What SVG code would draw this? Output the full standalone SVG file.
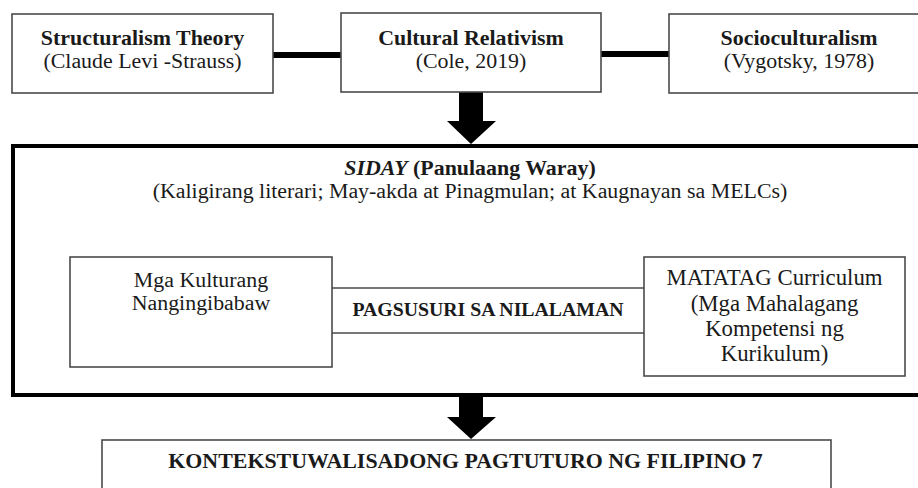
<svg xmlns="http://www.w3.org/2000/svg" width="918" height="488" viewBox="0 0 918 488">
<style>
text{font-family:"Liberation Serif","Times New Roman",serif;fill:#1a1a1a;text-anchor:middle;font-size:21.9px}
.b{font-weight:bold}
.mid{font-size:19.8px}
.cur{font-size:22.8px}
.box{fill:#fff;stroke:#4a4a4a;stroke-width:1.6}
.thick{stroke:#000;stroke-width:6;fill:none}
.thin{stroke:#4a4a4a;stroke-width:1.6;fill:none}
.arrow{fill:#000}
</style>
<rect width="918" height="488" fill="#fff"/>
<g id="connectors">
<line class="thick" x1="273" y1="55" x2="341" y2="55"/>
<line class="thick" x1="601" y1="54" x2="669" y2="54"/>
<polygon class="arrow" points="459,92 483,92 483,121 496,121 471,144 447,121 459,121"/>
<line class="thin" x1="332" y1="288" x2="644" y2="288"/>
<line class="thin" x1="332" y1="333" x2="644" y2="333"/>
<polygon class="arrow" points="459,395 483,395 483,417 496,417 471,439 447,417 459,417"/>
</g>
<g id="structuralism">
<rect class="box" x="12" y="14" width="261" height="79"/>
<text class="b" x="142.5" y="45">Structuralism Theory</text>
<text x="142.5" y="68">(Claude Levi -Strauss)</text>
</g>
<g id="cultural-relativism">
<rect class="box" x="341" y="13" width="260" height="79"/>
<text class="b" x="471" y="45">Cultural Relativism</text>
<text x="471" y="68">(Cole, 2019)</text>
</g>
<g id="socioculturalism">
<rect class="box" x="669" y="14" width="262" height="79"/>
<text class="b" x="799" y="45">Socioculturalism</text>
<text x="799" y="68">(Vygotsky, 1978)</text>
</g>
<g id="siday">
<rect x="13" y="146" width="915" height="249" fill="none" stroke="#000" stroke-width="4"/>
<text class="b" x="470" y="175"><tspan font-style="italic">SIDAY</tspan> (Panulaang Waray)</text>
<text x="470" y="198">(Kaligirang literari; May-akda at Pinagmulan; at Kaugnayan sa MELCs)</text>
</g>
<g id="kultura">
<rect class="box" x="70" y="257" width="262" height="110"/>
<text x="201" y="287">Mga Kulturang</text>
<text x="201" y="310">Nangingibabaw</text>
</g>
<g id="pagsusuri">
<text class="b mid" x="488" y="316">PAGSUSURI SA NILALAMAN</text>
</g>
<g id="matatag">
<rect class="box" x="644" y="257" width="261" height="119"/>
<text class="cur" x="774.5" y="285">MATATAG Curriculum</text>
<text class="cur" x="774.5" y="311">(Mga Mahalagang</text>
<text class="cur" x="774.5" y="336">Kompetensi ng</text>
<text class="cur" x="774.5" y="361">Kurikulum)</text>
</g>
<g id="kontekstuwalisado">
<rect class="box" x="102" y="440" width="729" height="60"/>
<text class="b" x="465.5" y="468">KONTEKSTUWALISADONG PAGTUTURO NG FILIPINO 7</text>
</g>
</svg>
